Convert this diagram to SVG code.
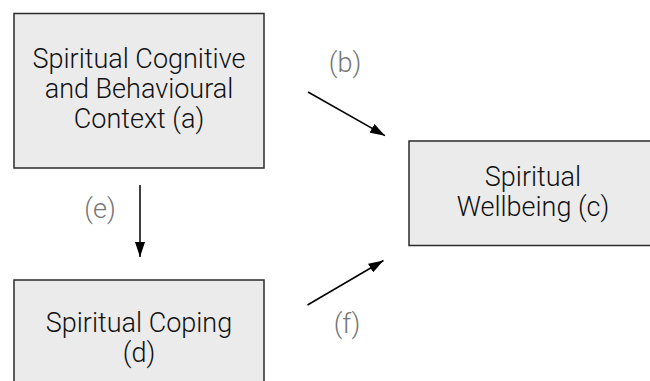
<svg xmlns="http://www.w3.org/2000/svg" width="650" height="381" viewBox="0 0 650 381">
<defs>
<style>
.box{fill:#ebebeb;stroke:#2b2b2b;stroke-width:1.5}
.t{font-family:Roboto,"Open Sans",sans-serif;font-size:27px;font-weight:300;fill:#111;text-anchor:middle}
.lbl{font-family:Roboto,"Open Sans",sans-serif;font-size:27px;font-weight:300;fill:#777;text-anchor:middle}
.edge{stroke:#000;stroke-width:1.5;fill:none;marker-end:url(#ah)}
</style>
<marker id="ah" viewBox="0 0 15 10" refX="15" refY="5" markerWidth="15" markerHeight="10" markerUnits="userSpaceOnUse" orient="auto">
<path d="M0,0 L15,5 L0,10 Z" fill="#000"/>
</marker>
</defs>
<rect width="650" height="381" fill="#fff"/>
<g id="node-a">
<rect class="box" x="14" y="13.5" width="250" height="154.5"/>
<text class="t" x="139" y="68">Spiritual Cognitive</text>
<text class="t" x="139" y="98">and Behavioural</text>
<text class="t" x="139" y="128">Context (a)</text>
</g>
<g id="node-c">
<rect class="box" x="409" y="141" width="250" height="104.5"/>
<text class="t" x="533" y="186">Spiritual</text>
<text class="t" x="533" y="216">Wellbeing (c)</text>
</g>
<g id="node-d">
<rect class="box" x="14" y="280" width="250" height="120"/>
<text class="t" x="139" y="332">Spiritual Coping</text>
<text class="t" x="139" y="362">(d)</text>
</g>
<g id="connectors">
<line class="edge" x1="308" y1="92" x2="385" y2="135.7"/>
<line class="edge" x1="140" y1="185" x2="140" y2="257"/>
<line class="edge" x1="307.5" y1="305" x2="383.5" y2="260.5"/>
<text class="lbl" x="345" y="72">(b)</text>
<text class="lbl" x="100" y="218">(e)</text>
<text class="lbl" x="347" y="333">(f)</text>
</g>
</svg>
